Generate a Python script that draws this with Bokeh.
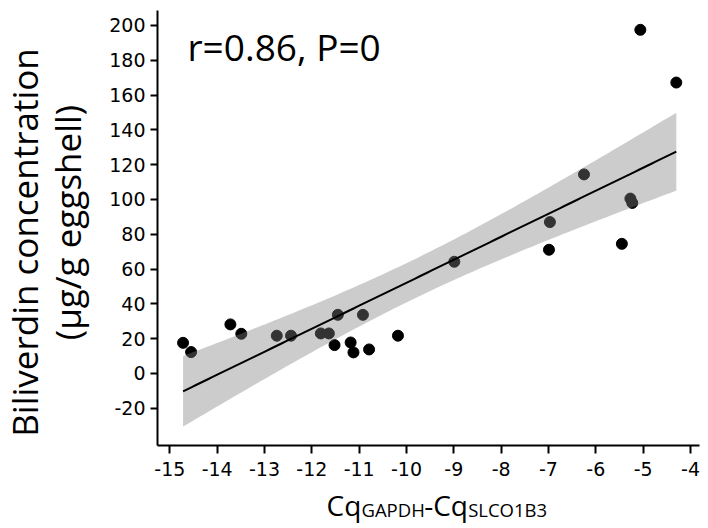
import numpy as np
from bokeh.plotting import figure
from bokeh.models import FixedTicker, Label
from bokeh.layouts import row, column
from bokeh.embed import file_html
from bokeh.resources import INLINE

# ---------------- data ----------------
x_vals = [-14.72, -14.55, -13.72, -13.49, -12.74, -12.44, -11.81, -11.64,
          -11.45, -11.52, -11.18, -11.12, -10.92, -10.79, -10.18, -8.99,
          -6.97, -6.99, -6.25, -5.45, -5.27, -5.23, -5.06, -4.30]
y_vals = [17.6, 12.3, 28.2, 22.8, 21.7, 21.7, 23.0, 23.0,
          33.7, 16.3, 17.8, 12.1, 33.7, 13.8, 21.7, 64.2,
          87.0, 71.1, 114.4, 74.5, 100.5, 98.0, 197.5, 167.2]

x_ticks = [-15, -14, -13, -12, -11, -10, -9, -8, -7, -6, -5, -4]
x_tick_labels = ["-15", "-14", "-13", "-12", "-11", "-10", "-9", "-8", "-7", "-6", "-5", "-4"]
y_ticks = [-20, 0, 20, 40, 60, 80, 100, 120, 140, 160, 180, 200]
y_tick_labels = ["-20", "0", "20", "40", "60", "80", "100", "120", "140", "160", "180", "200"]

stat_text = "r=0.86, P=0"
y_label_lines = ["Biliverdin concentration", "(\u00b5g/g eggshell)"]
x_label_parts = ["Cq", "GAPDH", "-Cq", "SLCO1B3"]
T95 = 2.074  # Student t, 0.975 quantile, 22 degrees of freedom

# ---------------- layout (overall pixel grid: 708 x 528) ----------------
TOTAL_W, TOTAL_H = 708, 528
LEFT_W = 100
MAIN_W = TOTAL_W - LEFT_W
MAIN_H = 484
BOT_H = TOTAL_H - MAIN_H
FRAME_L, FRAME_R, FRAME_T, FRAME_B = 157, 699, 10, 445
X0, X1 = -15.26, -3.81
Y0, Y1 = -41.4, 208.6
BASE_SHIFT = 0.42   # Label baseline offset (fraction of font size)


def dx(px):
    return X0 + (px - FRAME_L) * (X1 - X0) / (FRAME_R - FRAME_L)


def dy(py):
    return Y1 - (py - FRAME_T) * (Y1 - Y0) / (FRAME_B - FRAME_T)


def blank(w, h, xr, yr):
    f = figure(width=w, height=h, x_range=xr, y_range=yr, title=None,
               output_backend="svg", toolbar_location=None,
               x_axis_type=None, y_axis_type=None, min_border=0)
    f.outline_line_color = None
    f.background_fill_color = "white"
    f.border_fill_color = "white"
    return f


p = figure(width=MAIN_W, height=MAIN_H, x_range=(X0, X1), y_range=(Y0, Y1),
           output_backend="svg", toolbar_location=None,
           min_border_left=FRAME_L - LEFT_W, min_border_right=TOTAL_W - FRAME_R,
           min_border_top=FRAME_T, min_border_bottom=MAIN_H - FRAME_B)
p.background_fill_color = "white"
p.border_fill_color = "white"
p.outline_line_color = None
p.xgrid.visible = False
p.ygrid.visible = False

xa = np.array(x_vals)
ya = np.array(y_vals)
n = len(xa)
slope, intercept = np.polyfit(xa, ya, 1)
resid = ya - (intercept + slope * xa)
s = np.sqrt(np.sum(resid ** 2) / (n - 2))
sxx = np.sum((xa - xa.mean()) ** 2)
xs = np.linspace(xa.min(), xa.max(), 120)
yfit = intercept + slope * xs
half = T95 * s * np.sqrt(1.0 / n + (xs - xa.mean()) ** 2 / sxx)

p.scatter(xa, ya, size=11, color="black")
p.varea(x=xs, y1=yfit - half, y2=yfit + half, fill_color="#808080", fill_alpha=0.4)
p.line(xs, yfit, line_color="black", line_width=2)

for ax in (p.xaxis[0], p.yaxis[0]):
    ax.axis_line_width = 2
    ax.axis_line_color = "black"
    ax.major_tick_line_width = 2
    ax.major_tick_line_color = "black"
    ax.major_tick_in = 0
    ax.minor_tick_line_color = None
    ax.major_label_text_font = "DejaVu Sans"
    ax.major_label_text_font_size = "19px"
    ax.major_label_text_color = "black"

p.xaxis.ticker = FixedTicker(ticks=x_ticks)
p.yaxis.ticker = FixedTicker(ticks=y_ticks)
p.xaxis.major_label_overrides = {t: l for t, l in zip(x_ticks, x_tick_labels)}
p.yaxis.major_label_overrides = {t: l for t, l in zip(y_ticks, y_tick_labels)}
p.xaxis.major_tick_out = 8
p.yaxis.major_tick_out = 7
p.xaxis.major_label_standoff = 8
p.yaxis.major_label_standoff = 5

fs_stat = 37
p.add_layout(Label(x=dx(187), y=dy(62 - BASE_SHIFT * fs_stat), text=stat_text,
                   text_font="Open Sans", text_font_size=f"{fs_stat}px",
                   text_color="black", text_align="left", text_baseline="alphabetic"))

# ---------------- y-axis title strip (data = screen x, 528 - screen y) ----------------
yl = blank(LEFT_W, TOTAL_H, (0, LEFT_W), (0, TOTAL_H))
fs1, fs2 = 35, 35
yl.add_layout(Label(x=39 - BASE_SHIFT * fs1, y=TOTAL_H - 242, text=y_label_lines[0],
                    angle=np.pi / 2, text_font="Open Sans", text_font_size=f"{fs1}px",
                    text_color="black", text_align="center", text_baseline="alphabetic"))
yl.add_layout(Label(x=82 - BASE_SHIFT * fs2, y=TOTAL_H - 222, text=y_label_lines[1],
                    angle=np.pi / 2, text_font="Open Sans", text_font_size=f"{fs2}px",
                    text_color="black", text_align="center", text_baseline="alphabetic"))

# ---------------- x-axis title strip (frame aligned with main frame: 157..699) ----------------
xl = blank(MAIN_W, BOT_H, (FRAME_L, FRAME_R), (0, BOT_H))
big, small = 28, 18.5
em = {"Cq": 1.248, "GAPDH": 3.391, "-Cq": 1.570, "SLCO1B3": 4.254}
sizes = [big, small, big, small]
cur = 326
for part, fs in zip(x_label_parts, sizes):
    xl.add_layout(Label(x=cur, y=(TOTAL_H - 516.5) + BASE_SHIFT * fs, text=part,
                        text_font="Open Sans", text_font_size=f"{fs}px",
                        text_color="black", text_align="left", text_baseline="alphabetic"))
    cur += em[part] * fs

layout = row(yl, column(p, xl))
open("out.html", "w").write(file_html(layout, INLINE))
